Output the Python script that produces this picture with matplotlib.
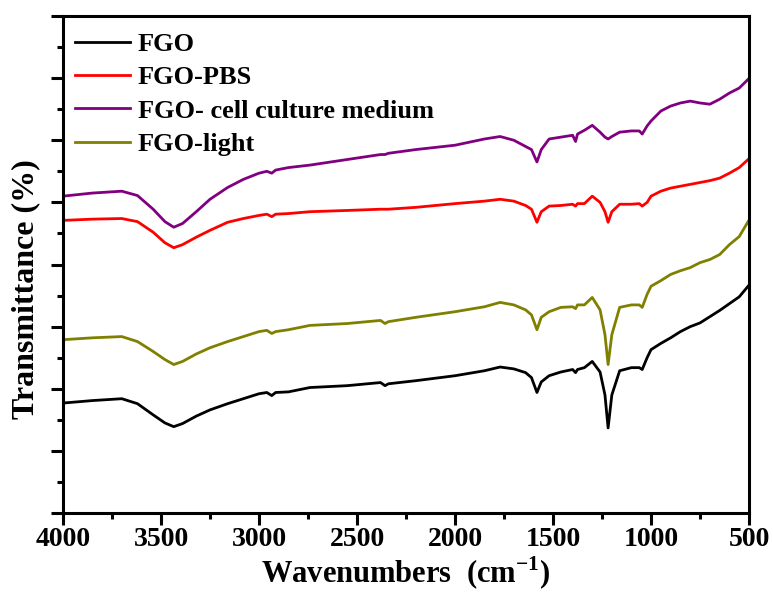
import matplotlib
matplotlib.use("Agg")
import matplotlib.pyplot as plt
from matplotlib.ticker import MultipleLocator, NullFormatter

plt.rcParams['font.family'] = ['Liberation Serif', 'DejaVu Serif']
plt.rcParams['font.weight'] = 'bold'
plt.rcParams['mathtext.fontset'] = 'custom'
plt.rcParams['mathtext.rm'] = 'Liberation Serif:bold'
plt.rcParams['mathtext.bf'] = 'Liberation Serif:bold'

# wavenumbers (cm-1), shared by all spectra
wavenumber = [4000, 3850, 3700, 3620, 3540, 3480, 3435, 3390, 3320, 3250,
              3160, 3080, 3000, 2960, 2935, 2915, 2850, 2740, 2550, 2380,
              2357, 2340, 2200, 2000, 1850, 1770, 1700, 1640, 1610, 1582,
              1560, 1520, 1460, 1400, 1385, 1375, 1340, 1300, 1260, 1235,
              1219, 1200, 1160, 1100, 1060, 1045, 1020, 1000, 950, 900,
              850, 800, 750, 700, 650, 600, 550, 505]

fgo = [17.7, 18.1, 18.4, 17.6, 15.8, 14.5, 13.9, 14.4, 15.6, 16.6,
       17.6, 18.4, 19.2, 19.4, 18.9, 19.4, 19.5, 20.2, 20.5, 21.0,
       20.5, 20.8, 21.3, 22.1, 22.9, 23.5, 23.2, 22.6, 21.8, 19.4,
       21.1, 22.1, 22.7, 23.1, 22.6, 23.1, 23.4, 24.4, 22.7, 19.0,
       13.7, 19.0, 22.9, 23.4, 23.4, 23.1, 25.0, 26.3, 27.3, 28.2,
       29.2, 30.0, 30.6, 31.6, 32.6, 33.7, 34.8, 36.5]

fgo_light = [27.9, 28.2, 28.4, 27.6, 26.0, 24.7, 23.9, 24.4, 25.6, 26.6,
             27.6, 28.4, 29.2, 29.4, 28.9, 29.2, 29.5, 30.2, 30.5, 31.0,
             30.5, 30.8, 31.5, 32.4, 33.2, 33.9, 33.5, 32.7, 31.9, 29.5,
             31.5, 32.4, 33.1, 33.2, 32.9, 33.5, 33.5, 34.7, 32.7, 28.7,
             23.9, 28.7, 33.1, 33.5, 33.5, 33.1, 35.2, 36.5, 37.4, 38.4,
             39.0, 39.5, 40.3, 40.8, 41.6, 43.2, 44.5, 46.9]

fgo_pbs = [47.1, 47.3, 47.4, 46.9, 45.2, 43.5, 42.7, 43.2, 44.4, 45.5,
           46.8, 47.4, 47.9, 48.1, 47.7, 48.1, 48.2, 48.5, 48.7, 48.9,
           48.9, 48.9, 49.2, 49.8, 50.2, 50.5, 50.2, 49.5, 48.9, 46.8,
           48.5, 49.4, 49.5, 49.7, 49.4, 49.8, 49.8, 51.0, 50.0, 48.5,
           46.8, 48.5, 49.7, 49.7, 49.8, 49.4, 50.0, 51.0, 51.8, 52.3,
           52.6, 52.9, 53.2, 53.5, 53.9, 54.7, 55.6, 56.9]

fgo_medium = [51.0, 51.5, 51.8, 51.1, 48.9, 46.9, 46.0, 46.6, 48.5, 50.5,
              52.4, 53.7, 54.7, 55.0, 54.7, 55.2, 55.6, 56.0, 56.9, 57.7,
              57.7, 57.9, 58.5, 59.2, 60.2, 60.6, 60.0, 59.0, 58.5, 56.5,
              58.5, 60.2, 60.5, 60.8, 59.8, 61.0, 61.6, 62.4, 61.3, 60.5,
              60.2, 60.6, 61.3, 61.5, 61.5, 61.0, 62.3, 63.1, 64.7, 65.5,
              66.0, 66.3, 66.0, 65.8, 66.6, 67.6, 68.4, 69.8]

fig = plt.figure(figsize=(7.73, 5.92), dpi=100)
ax = fig.add_axes([0.0815, 0.1334, 0.8875, 0.8396])

ax.plot(wavenumber, fgo, color='black', lw=2, label='FGO')
ax.plot(wavenumber, fgo_pbs, color='#ff0000', lw=2, label='FGO-PBS')
ax.plot(wavenumber, fgo_medium, color='#800080', lw=2, label='FGO- cell culture medium')
ax.plot(wavenumber, fgo_light, color='#808000', lw=2, label='FGO-light')

ax.set_xlim(4000, 500)
ax.set_ylim(0, 80)

ax.xaxis.set_major_locator(MultipleLocator(500))
ax.xaxis.set_minor_locator(MultipleLocator(250))
ax.yaxis.set_major_locator(MultipleLocator(10))
ax.yaxis.set_minor_locator(MultipleLocator(5))
ax.yaxis.set_major_formatter(NullFormatter())

ax.tick_params(axis='both', which='major', direction='out', length=8.5, width=2.2,
               labelsize=20, pad=1.5, top=False, right=False)
ax.tick_params(axis='both', which='minor', direction='out', length=4.5, width=2.2,
               top=False, right=False)
for lab in ax.get_xticklabels():
    lab.set_fontweight('bold')

for sp in ax.spines.values():
    sp.set_linewidth(2.2)

fig.text(0.525, 0.014, 'Wavenumbers  (cm$^{-1}$)', fontsize=22, fontweight='bold',
         ha='center', va='baseline')
ax.set_ylabel('Transmittance (%)', fontsize=23, fontweight='bold')
ax.yaxis.set_label_coords(-0.033, 0.45)

ax.legend(loc='upper left', bbox_to_anchor=(0.0, 0.99), frameon=False,
          handlelength=2.1, handletextpad=0.3, labelspacing=0.37,
          borderaxespad=0.04, prop={'weight': 'bold', 'size': 19})

fig.savefig('out.png', dpi=100)
